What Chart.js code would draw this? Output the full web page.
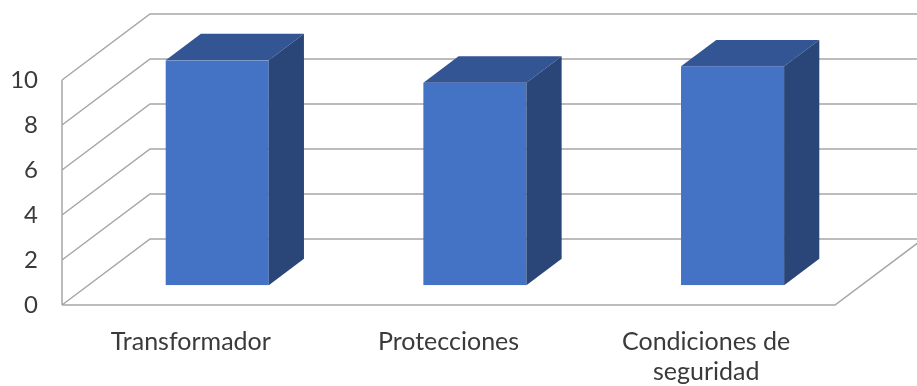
<!DOCTYPE html>
<html>
<head>
<meta charset="utf-8">
<script src="https://cdn.jsdelivr.net/npm/chart.js@4"></script>
<style>
  html, body { margin: 0; padding: 0; background: #fff; }
  #wrap { width: 917px; height: 386px; }
</style>
</head>
<body>
<div id="wrap"><canvas id="chart"></canvas></div>
<script>
const categories = ["Transformador", "Protecciones", ["Condiciones de", "seguridad"]];
const values = [10, 9, 9.73];
const yTicks = [0, 2, 4, 6, 8, 10];

// 3d look: full depth of the box, bar placed in the middle of it
const DEPTH_X = 88, DEPTH_Y = -66;
const BAR_FRONT = 0.30, BAR_DEPTH = 0.40;
const GRID_COLOR = "#a6a6a6";

const gridPlugin = {
  id: "grid3d",
  beforeDatasetsDraw(chart) {
    const ctx = chart.ctx;
    const y = chart.scales.y;
    const area = chart.chartArea;
    const W = chart.width;
    ctx.save();
    ctx.strokeStyle = GRID_COLOR;
    ctx.lineWidth = 1.5;
    ctx.beginPath();
    yTicks.forEach(v => {
      const py = y.getPixelForValue(v);
      ctx.moveTo(area.left, py);
      ctx.lineTo(area.left + DEPTH_X, py + DEPTH_Y);
      ctx.lineTo(W + 5, py + DEPTH_Y);
    });
    // left wall front edge
    ctx.moveTo(area.left, y.getPixelForValue(yTicks[yTicks.length - 1]));
    ctx.lineTo(area.left, y.getPixelForValue(0));
    // floor front and right edges
    const y0 = y.getPixelForValue(0);
    ctx.moveTo(area.left, y0);
    ctx.lineTo(area.right, y0);
    ctx.lineTo(area.right + DEPTH_X, y0 + DEPTH_Y);
    ctx.stroke();
    ctx.restore();

    // move the bars back into the box
    ctx.save();
    ctx.translate(DEPTH_X * BAR_FRONT, DEPTH_Y * BAR_FRONT);
  },
  afterDatasetsDraw(chart) {
    const ctx = chart.ctx;
    const dx = DEPTH_X * BAR_DEPTH, dy = DEPTH_Y * BAR_DEPTH;
    chart.getDatasetMeta(0).data.forEach(bar => {
      const l = bar.x - bar.width / 2, r = bar.x + bar.width / 2;
      const t = bar.y, b = bar.base;
      // top face
      ctx.fillStyle = "#335593";
      ctx.beginPath();
      ctx.moveTo(l, t);
      ctx.lineTo(l + dx, t + dy);
      ctx.lineTo(r + dx, t + dy);
      ctx.lineTo(r, t);
      ctx.closePath();
      ctx.fill();
      // side face
      ctx.fillStyle = "#2a4678";
      ctx.beginPath();
      ctx.moveTo(r, t);
      ctx.lineTo(r + dx, t + dy);
      ctx.lineTo(r + dx, b + dy);
      ctx.lineTo(r, b);
      ctx.closePath();
      ctx.fill();
    });
    ctx.restore();
  }
};

new Chart(document.getElementById("chart"), {
  type: "bar",
  data: {
    labels: categories,
    datasets: [{
      data: values,
      backgroundColor: "#4472c4",
      categoryPercentage: 1,
      barPercentage: 0.4
    }]
  },
  options: {
    responsive: true,
    maintainAspectRatio: false,
    animation: false,
    layout: { padding: { top: 80, right: 82, left: 0, bottom: 0 } },
    plugins: { legend: { display: false }, tooltip: { enabled: false } },
    scales: {
      x: {
        grid: { display: false, drawTicks: false },
        border: { display: false },
        ticks: {
          color: "#3a3a3a",
          font: { family: "Lato", size: 25, lineHeight: 1.2 },
          padding: 22,
          maxRotation: 0,
          autoSkip: false
        },
        afterFit: s => { s.height = 81; }
      },
      y: {
        min: 0,
        max: 10,
        grid: { display: false, drawTicks: false },
        border: { display: false },
        ticks: {
          stepSize: 2,
          color: "#3a3a3a",
          font: { family: "Lato", size: 24 },
          padding: 24
        },
        afterFit: s => { s.width = 62; }
      }
    }
  },
  plugins: [gridPlugin]
});
</script>
</body>
</html>
